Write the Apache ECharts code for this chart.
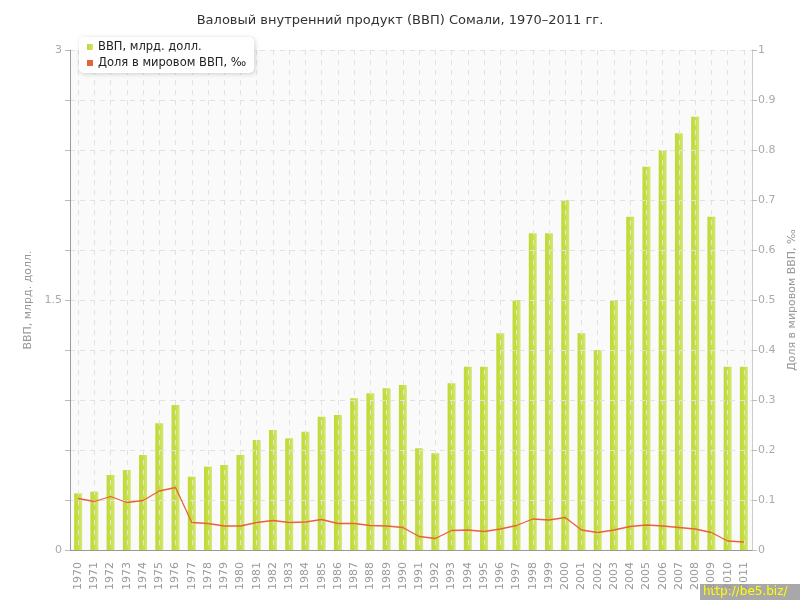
<!DOCTYPE html>
<html><head><meta charset="utf-8">
<script src="https://cdn.jsdelivr.net/npm/echarts@6/dist/echarts.min.js"></script>
<style>html,body{margin:0;padding:0;background:#fff}#c{width:800px;height:600px}</style>
</head><body><div id="c"></div>
<script>
const years = ['1970','1971','1972','1973','1974','1975','1976','1977','1978','1979','1980','1981','1982','1983','1984','1985','1986','1987','1988','1989','1990','1991','1992','1993','1994','1995','1996','1997','1998','1999','2000','2001','2002','2003','2004','2005','2006','2007','2008','2009','2010','2011'];
const gdp = [0.34,0.35,0.45,0.48,0.57,0.76,0.87,0.44,0.50,0.51,0.57,0.66,0.72,0.67,0.71,0.80,0.81,0.91,0.94,0.97,0.99,0.61,0.58,1.00,1.10,1.10,1.30,1.50,1.90,1.90,2.10,1.30,1.20,1.50,2.00,2.30,2.40,2.50,2.60,2.00,1.10,1.10];
const share = [0.103,0.097,0.107,0.095,0.099,0.118,0.125,0.055,0.053,0.048,0.048,0.055,0.059,0.055,0.056,0.061,0.053,0.053,0.049,0.048,0.045,0.027,0.023,0.039,0.040,0.037,0.042,0.049,0.062,0.060,0.065,0.040,0.035,0.040,0.047,0.050,0.048,0.045,0.042,0.035,0.018,0.016];
const leftTicks = [0,1.5,3];
const F = 'DejaVu Sans';
const chart = echarts.init(document.getElementById('c'));
chart.setOption({
  animation:false,
  textStyle:{fontFamily:F},
  title:{text:'Валовый внутренний продукт (ВВП) Сомали, 1970–2011 гг.',left:'center',top:9,
    textStyle:{fontFamily:F,fontSize:13,fontWeight:'normal',color:'#333'}},
  legend:{orient:'vertical',left:79,top:37,itemWidth:6,itemHeight:6,itemGap:4,
    backgroundColor:'#fff',borderRadius:5,padding:[4,8,4,8],
    shadowColor:'rgba(0,0,0,0.18)',shadowBlur:4,shadowOffsetX:1,shadowOffsetY:1,
    textStyle:{fontFamily:F,fontSize:11.5,color:'#222'},
    data:[{name:'ВВП, млрд. долл.',icon:'rect'},{name:'Доля в мировом ВВП, ‰',icon:'rect'}]},
  grid:{left:70,right:48,top:50,bottom:50,show:true,backgroundColor:'#fafafa',borderWidth:0,outerBoundsMode:'none',containLabel:false},
  xAxis:{type:'category',data:years,boundaryGap:true,z:3,
    axisLine:{lineStyle:{color:'#999'}},
    axisTick:{alignWithLabel:true,length:5,lineStyle:{color:'#999'}},
    axisLabel:{rotate:90,fontSize:11,color:'#999',fontFamily:F,margin:12},
    splitLine:{show:true,alignWithLabel:true,lineStyle:{color:'#e2e2e2',type:[5,5]}}},
  yAxis:[
    {type:'value',min:0,max:3,interval:0.3,z:3,name:'ВВП, млрд. долл.',nameLocation:'middle',nameGap:33,
      nameTextStyle:{fontFamily:F,fontSize:11,color:'#999'},
      axisLine:{show:true,lineStyle:{color:'#999'}},
      axisTick:{show:true,length:5,lineStyle:{color:'#bbb'}},
      axisLabel:{fontSize:11,color:'#aaa',fontFamily:F,margin:8,formatter:v=>{const r=Math.round(v*10)/10;return leftTicks.includes(r)?String(r):'';}},
      splitLine:{show:true,lineStyle:{color:'#e2e2e2',type:[5,5]}}},
    {type:'value',min:0,max:1,interval:0.1,z:3,name:'Доля в мировом ВВП, ‰',nameLocation:'middle',nameGap:30,
      nameTextStyle:{fontFamily:F,fontSize:11,color:'#999'},
      axisLine:{show:true,lineStyle:{color:'#ccc'}},
      axisTick:{show:true,length:5,lineStyle:{color:'#bbb'}},
      axisLabel:{fontSize:11,color:'#aaa',fontFamily:F,margin:6,formatter:v=>String(Math.round(v*10)/10)},
      splitLine:{show:false}}
  ],
  series:[
    {name:'ВВП, млрд. долл.',type:'bar',data:gdp,barWidth:8,yAxisIndex:0,z:2,
      itemStyle:{color:new echarts.graphic.LinearGradient(0,0,1,0,[{offset:0,color:'#c0d936'},{offset:0.5,color:'#c6de44'},{offset:1,color:'#d4e876'}])}},
    {name:'Доля в мировом ВВП, ‰',type:'line',data:share,yAxisIndex:1,z:5,symbol:'none',
      itemStyle:{color:'#e8623a'},lineStyle:{color:'#e8623a',width:1.3}}
  ],
  graphic:[
    {type:'rect',left:700,top:584,shape:{width:100,height:16},style:{fill:'#a8a8a8'}},
    {type:'text',left:703,top:586,style:{text:'http://be5.biz/',fill:'#ffff00',font:'12px "DejaVu Sans"'}}
  ]
});
</script></body></html>
